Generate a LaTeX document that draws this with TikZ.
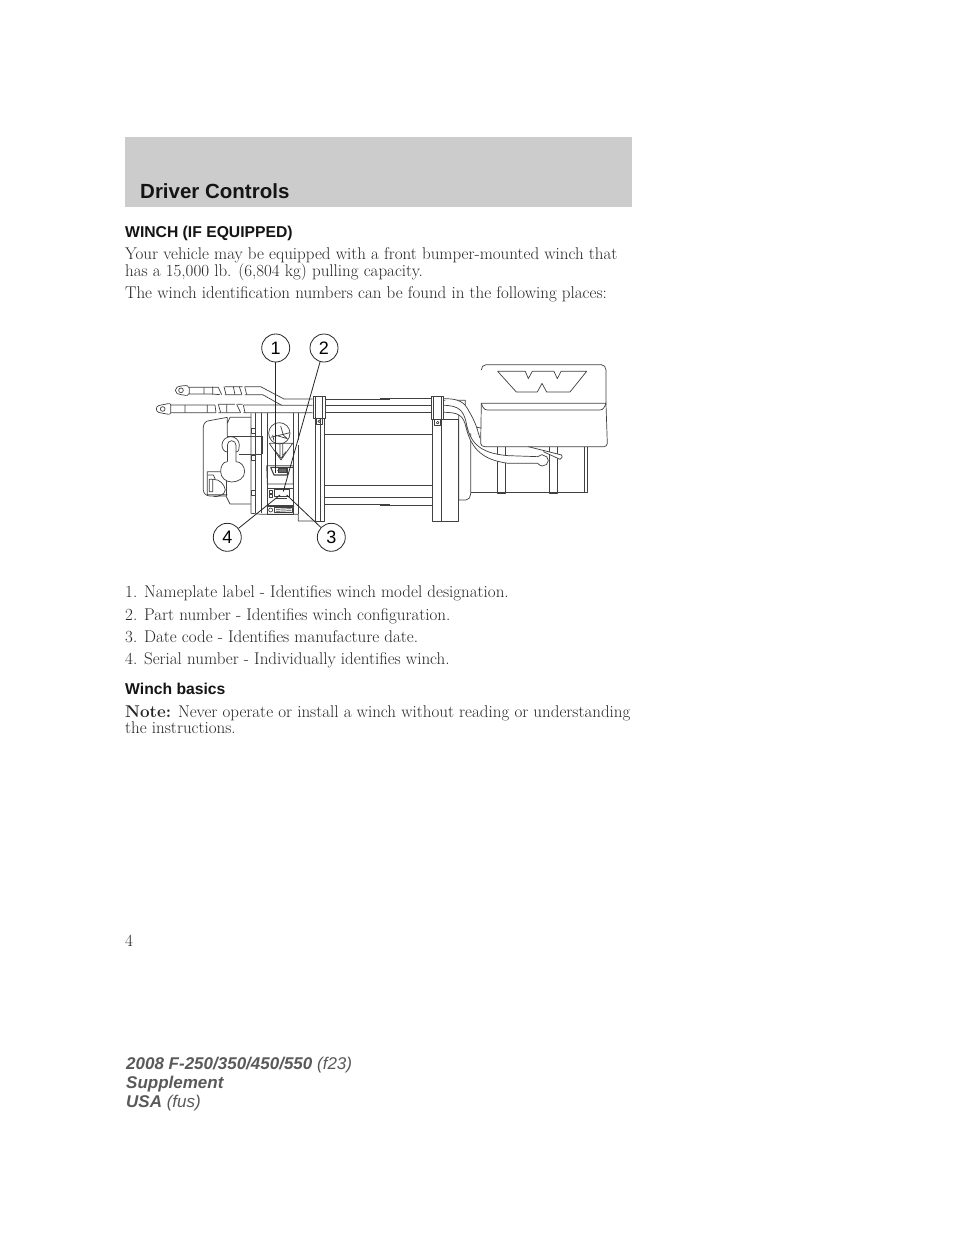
\documentclass[tikz,border=0pt]{standalone}
\usepackage{fontspec}
\newfontfamily\hv{Liberation Sans}
\definecolor{band}{gray}{0.8}
\definecolor{ln}{gray}{0.25}
\tikzset{
 body/.style={anchor=base west,inner sep=0pt,font=\fontsize{17}{18}\selectfont,text=black!85},
 head/.style={anchor=base west,inner sep=0pt,font=\hv\bfseries\fontsize{15.7}{18}\selectfont,text=black!92},
 foot/.style={anchor=base west,inner sep=0pt,font=\hv\bfseries\itshape\fontsize{17}{18}\selectfont,text=black!65},
 callout/.style={circle,draw=black!85,line width=.8pt,fill=white,minimum size=28pt,inner sep=0pt,font=\hv\fontsize{18}{20}\selectfont},
 ink/.style={draw=ln,line width=.7pt,line join=round},
 leader/.style={draw=black!85,line width=.8pt},
}
\begin{document}
\begin{tikzpicture}[x=1pt,y=-1pt]
\useasboundingbox (0,0) rectangle (960,1242);
\fill[white] (0,0) rectangle (960,1242);
\fill[band] (125,137) rectangle (632,207);
\node[head,font=\hv\bfseries\fontsize{20.5}{20}\selectfont] (title) at (140,198) {Driver Controls};
\node[head] (h1) at (125,237) {WINCH (IF EQUIPPED)};
\node[body] (t1) at (125,259) {Your vehicle may be equipped with a front bumper-mounted winch that};
\node[body] (t2) at (125,276) {has a 15,000 lb. (6,804 kg) pulling capacity.};
\node[body] (t3) at (125,298) {The winch identification numbers can be found in the following places:};
\node[body] (l1) at (125,597) {1. Nameplate label - Identifies winch model designation.};
\node[body] (l2) at (125,620) {2. Part number - Identifies winch configuration.};
\node[body] (l3) at (125,642) {3. Date code - Identifies manufacture date.};
\node[body] (l4) at (125,664) {4. Serial number - Individually identifies winch.};
\node[head] (h2) at (125,694) {Winch basics};
\node[body] (n1) at (125,717) {\textbf{Note:} Never operate or install a winch without reading or understanding};
\node[body] (n2) at (125,733) {the instructions.};
\node[body] (pg) at (125,946) {4};
\node[foot] (f1) at (126,1069) {2008 F-250/350/450/550 \textmd{(f23)}};
\node[foot] (f2) at (126,1088) {Supplement};
\node[foot] (f3) at (126,1107) {USA \textmd{(fus)}};

% right part of the winch, coordinates of the second crop
\begin{scope}[shift={(380,340)},x=.3333pt,y=-.3333pt]
\path[ink] (0,176)--(152,176) (0,196)--(152,196) (0,217)--(152,217)
 (0,283)--(157,283) (0,436)--(157,436) (0,473)--(157,473) (0,495)--(157,495);
% end flange
\path[ink] (157,238) rectangle (236,543) (185,238)--(185,543);
\path[ink] (190,181)--(256,181)--(256,200) (236,225)--(236,480) (236,480)--(258,480) to[out=0,in=-90] (272,462)--(272,280);
% motor
\path[ink] (272,458)--(622,458)--(622,320) (351,320)--(351,458) (375,320)--(375,458) (508,320)--(508,460) (533,320)--(533,460) (612,320)--(612,458);
\path[ink] (351,458) rectangle (375,461) (508,458) rectangle (533,461);
% cover
\path[ink,fill=white] (304,90) to[out=90,in=180] (318,74)--(664,74) to[out=0,in=90] (678,90)--(678,190) (678,190)--(682,310) to[out=-90,in=0] (672,320)--(314,320) to[out=180,in=-90] (302,310)--(304,190)--cycle;
\path[ink] (304,190) to[out=-70,in=180] (322,210)--(660,210) to[out=0,in=-110] (678,190);
% W logo
\path[ink] (353,94)--(436,94)--(445,116)--(457,94)--(522,94)--(532,116)--(543,94)--(620,94)--(570,156)--(500,156)--(486,130)--(472,156)--(409,156)--cycle;
% clip lever
\path[ink,fill=white] (445,320)--(545,345) to[out=-20,in=20] (540,358)--(490,335);
% cables
\path[ink,fill=white] (190,176) to[out=0,in=120] (262,205) to[out=-60,in=110] (290,262) (290,262)--(300,295);
\path[ink] (290,262)--(304,264);
\path[ink,fill=white] (190,196) .. controls (240,196) and (250,215) .. (258,245) .. controls (268,300) and (290,340) .. (385,347)--(473,350) to[out=10,in=120] (490,346) to[out=0,in=90] (505,362) to[out=-90,in=0] (487,378) to[out=180,in=-40] (473,370)--(385,370) .. controls (310,360) and (275,330) .. (258,262) .. controls (250,225) and (235,217) .. (190,217);
% bracket
\path[ink,fill=white] (153,170) rectangle (190,238) (161,170)--(161,238) (183,170)--(183,238);
\path[ink] (164,238) rectangle (182,257);
\path[ink] (173,248) circle (4);
\end{scope}

% left part of the winch, coordinates of the first crop
\begin{scope}[shift={(150,320)},x=.3333pt,y=-.3333pt]
% upper cable
\path[ink] (93,198) to[out=0,in=90] (115,202)--(185,202) (185,202)--(205,202) (225,200)--(278,200) (285,200)--(332,200)--(402,237)--(488,237);
\path[ink] (93,224) to[out=0,in=-90] (115,222)--(185,222) (185,222)--(210,224) (225,224)--(275,224) (285,224)--(338,224)--(395,256)--(488,256);
\path[ink] (93,198) to[out=180,in=90] (76,211) to[out=-90,in=180] (93,224);
\path[ink] (93,211) circle (7);
\path[ink] (118,202)--(118,222) (162,202)--(162,222) (188,200)--(188,224) (205,202)--(215,224) (222,200)--(228,224) (250,200)--(255,224) (268,200)--(276,224) (284,200)--(290,224);
% lower cable
\path[ink] (38,254) to[out=0,in=90] (62,255)--(172,255) (172,255)--(195,255) (205,253)--(255,253) (262,253)--(278,253) (282,255)--(395,255);
\path[ink] (38,280) to[out=0,in=-90] (62,278)--(172,278)--(198,278) (205,278)--(272,278) (280,278)--(488,278);
\path[ink] (38,254) to[out=180,in=90] (19,267) to[out=-90,in=180] (38,280);
\path[ink] (38,267) circle (7);
\path[ink] (62,255)--(62,278) (105,255)--(105,278) (172,255)--(172,278) (195,255)--(198,278) (205,253)--(212,278) (230,253)--(230,278) (260,253)--(272,278) (280,255)--(285,278);
% housing left
\path[ink] (232,292)--(178,302) to[out=180,in=90] (160,322)--(160,510) to[out=-90,in=180] (180,528)--(228,528)--(240,552)--(303,552);
\path[ink] (240,292)--(303,292) (232,292)--(232,348) (240,292)--(232,310);
\path[ink] (232,348)--(336,348) (268,403)--(336,403) (336,348)--(336,403);
\path[ink] (228,528)--(228,470);
% handle
\path[ink] (216,375) to[out=90,in=180] (242,350) to[out=0,in=90] (268,375);
\path[ink] (216,375) to[out=-90,in=180] (232,396);
\path[ink] (268,375) to[out=-90,in=0] (258,396);
\path[ink] (232,376) to[out=90,in=180] (245,362) to[out=0,in=90] (258,376) -- (258,428);
\path[ink] (232,376)--(232,428);
\path[ink,fill=white] (232,425) to[out=180,in=90] (212,455) to[out=-90,in=180] (245,486) to[out=0,in=-90] (284,455) to[out=90,in=0] (258,425);
% badge
\path[ink] (172,455)--(212,455) (172,455)--(172,524)--(232,524) (178,478)--(178,515)--(188,515)--(188,478)--cycle (190,478) to[out=0,in=100] (226,510) to[out=-100,in=0] (190,530);
\path[ink] (172,465)--(190,465)--(196,478);
% frame
\path[ink] (303,280)--(303,580)--(335,583)--(445,583) (445,583)--(445,603)--(497,603);
\path[ink] (315,280)--(315,580) (335,280)--(335,580) (352,280)--(352,575) (430,280)--(430,575) (445,280)--(445,360) (445,375)--(445,583);
\path[ink,fill=white] (303,325) rectangle (315,340) (303,405) rectangle (315,422) (303,510) rectangle (315,525);
% warning symbols
\path[ink] (388,340) circle (32);
\path[ink] (362,352)--(420,338) (392,318)--(400,345)--(412,356)--(378,346) (368,345)--(372,362);
\path[ink] (358,370)--(428,370)--(393,420)--cycle;
\path[ink] (390,370)--(390,414) (398,370)--(398,414) (378,395)--(393,415)--(408,395);
% nameplate
\path[ink] (350,437)--(430,437)--(430,492)--(352,492)--cycle;
\path[ink,line width=1.1pt] (362,442)--(430,442) (362,442)--(372,465)--(412,465)--(412,442) (382,452)--(410,452);
\path[ink,fill=black!60] (385,445) rectangle (410,458);
% labels
\path[ink] (352,505)--(430,505)--(430,556)--(352,556);
\path[ink] (372,508) rectangle (418,528);
\path[ink] (358,510) rectangle (368,520) (358,522) rectangle (368,532);
\path[ink,line width=1.6pt] (378,535)--(410,535);
\path[ink] (352,558) rectangle (430,582) (372,562) rectangle (428,578);
\path[ink] (362,570) circle (6);
\path[ink] (378,568)--(424,566) (378,574)--(424,572);
% front flange bar
\path[ink,fill=white] (497,295) rectangle (522,603) (512,295)--(512,603);
% drum lines
\path[ink] (522,343)--(720,343) (522,495)--(720,495) (522,532)--(720,532) (522,552)--(720,552);
% bracket
\path[ink,fill=white] (489,230) rectangle (525,295) (497,230)--(497,295) (518,230)--(518,295);
\path[ink] (498,295) rectangle (518,314);
\path[ink] (508,304) circle (4);
\path[ink] (525,237)--(720,237) (525,256)--(720,256) (525,278)--(720,278);
\end{scope}

% callouts
\node[callout] (c1) at (275.7,348) {1};
\node[callout] (c2) at (324,348) {2};
\node[callout] (c3) at (331.3,537.3) {3};
\node[callout] (c4) at (227.3,537.3) {4};
\coordinate (p1) at (275.7,473);
\coordinate (p2) at (283.3,491.5);
\coordinate (p3) at (286.7,495);
\coordinate (p4) at (280,495);
\draw[leader] (c1)--(p1);
\draw[leader] (c2)--(p2);
\draw[leader] (c3)--(p3);
\draw[leader] (c4)--(p4);
\end{tikzpicture}
\end{document}
